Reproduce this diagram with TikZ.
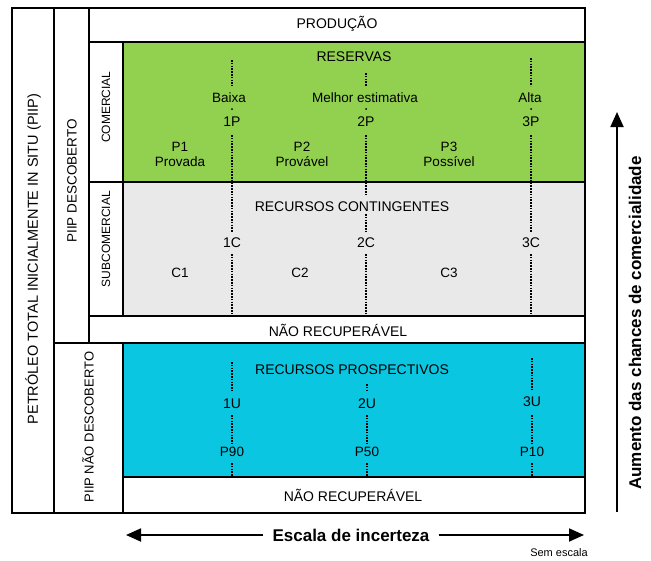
\documentclass[tikz,border=0pt]{standalone}
\usepackage{fontspec}
\setmainfont{Liberation Sans}
\usetikzlibrary{arrows.meta}
\definecolor{resgreen}{HTML}{92D050}
\definecolor{contgray}{HTML}{E9E9E9}
\definecolor{prosblue}{HTML}{0BC6E0}
\begin{document}
\begin{tikzpicture}[x=1pt,y=-1pt,
  region/.style={draw=black, line width=1.8pt, inner sep=0pt, outer sep=0pt, anchor=north west},
  lbl/.style={font=\fontsize{14}{16}\selectfont, inner sep=1pt},
  sml/.style={font=\fontsize{13.5}{16}\selectfont, inner sep=1pt, align=center},
  side/.style={font=\fontsize{12}{14}\selectfont, inner sep=1pt, rotate=90},
  bigbold/.style={font=\fontsize{17}{20}\selectfont\bfseries, inner sep=1pt},
  dotline/.style={line width=2pt, dash pattern=on 1.5pt off 1.3pt},
  dotmark/.style={fill=black},
  axis/.style={line width=1.8pt, -{Triangle[length=15pt,width=13pt]}}
]
\useasboundingbox (0,0) rectangle (651,560);
% regions
\node[region, minimum width=573pt, minimum height=505pt] (outer) at (12,8) {};
\node[region, minimum width=35pt, minimum height=335pt] (descol) at (54,8) {};
\node[region, minimum width=69pt, minimum height=170pt] (ndescol) at (54,343) {};
\node[region, minimum width=496pt, minimum height=34pt] (prod) at (89,8) {};
\node[region, minimum width=34pt, minimum height=140pt] (comcol) at (89,42) {};
\node[region, fill=resgreen, minimum width=462pt, minimum height=140pt] (green) at (123,42) {};
\node[region, minimum width=34pt, minimum height=134pt] (subcol) at (89,182) {};
\node[region, fill=contgray, minimum width=462pt, minimum height=134pt] (gray) at (123,182) {};
\node[region, minimum width=496pt, minimum height=27pt] (nrec1) at (89,316) {};
\node[region, fill=prosblue, minimum width=462pt, minimum height=134pt] (blue) at (123,343) {};
\node[region, minimum width=462pt, minimum height=36pt] (nrec2) at (123,477) {};

% side labels
\node[side, font=\fontsize{14.5}{16}\selectfont] (petro) at (33,259) {PETRÓLEO TOTAL INICIALMENTE IN SITU (PIIP)};
\node[side, font=\fontsize{13.5}{16}\selectfont] (piipd) at (72,181) {PIIP DESCOBERTO};
\node[side, font=\fontsize{13}{16}\selectfont] (piipnd) at (88,427) {PIIP NÃO DESCOBERTO};
\node[side] (comer) at (106,107) {COMERCIAL};
\node[side] (subcomer) at (106,239) {SUBCOMERCIAL};

% main labels
\node[lbl] (tprod) at (337,24) {PRODUÇÃO};
\node[lbl] (tres) at (354,57) {RESERVAS};
\node[lbl] (tcont) at (352,207) {RECURSOS CONTINGENTES};
\node[lbl] (tnr1) at (338,330) {NÃO RECUPERÁVEL};
\node[lbl] (tpros) at (352,370) {RECURSOS PROSPECTIVOS};
\node[lbl] (tnr2) at (353,495) {NÃO RECUPERÁVEL};

% estimates
\node[sml] (baixa) at (229,98) {Baixa};
\node[sml] (melhor) at (365,98) {Melhor estimativa};
\node[sml] (alta) at (530,98) {Alta};
\node[lbl] (n1P) at (232,122) {1P};
\node[lbl] (n2P) at (366,122) {2P};
\node[lbl] (n3P) at (531,122) {3P};
\node[sml] (p1) at (180,154) {P1\\[-1pt]Provada};
\node[sml] (p2) at (302,154) {P2\\[-1pt]Provável};
\node[sml] (p3) at (449,154) {P3\\[-1pt]Possível};
\node[lbl] (n1C) at (232,243) {1C};
\node[lbl] (n2C) at (366,243) {2C};
\node[lbl] (n3C) at (531,243) {3C};
\node[sml] (c1) at (180,273) {C1};
\node[sml] (c2) at (300,273) {C2};
\node[sml] (c3) at (449,273) {C3};
\node[lbl] (n1U) at (232,404) {1U};
\node[lbl] (n2U) at (367,404) {2U};
\node[lbl] (n3U) at (532,402) {3U};
\node[sml] (p90) at (232,452) {P90};
\node[sml] (p50) at (367,452) {P50};
\node[sml] (p10) at (532,452) {P10};

% dotted guide coordinates
\coordinate (a1) at (232,60);  \coordinate (a2) at (232,86);
\coordinate (a3) at (232,135); \coordinate (a4) at (232,232);
\coordinate (a5) at (232,254); \coordinate (a6) at (232,316);
\coordinate (b1) at (366,73);  \coordinate (b2) at (366,86);
\coordinate (b3) at (366,135); \coordinate (b4) at (366,194);
\coordinate (b5) at (366,214); \coordinate (b6) at (366,232);
\coordinate (b7) at (366,254); \coordinate (b8) at (366,316);
\coordinate (e1) at (531,58);  \coordinate (e2) at (531,86);
\coordinate (e3) at (531,135); \coordinate (e4) at (531,232);
\coordinate (e5) at (531,254); \coordinate (e6) at (531,316);
\coordinate (u1) at (232,362); \coordinate (u2) at (232,391);
\coordinate (u3) at (232,415); \coordinate (u4) at (232,444);
\coordinate (u5) at (232,463); \coordinate (u6) at (232,477);
\coordinate (v1) at (367,384); \coordinate (v2) at (367,391);
\coordinate (v3) at (367,415); \coordinate (v4) at (367,444);
\coordinate (v5) at (367,463); \coordinate (v6) at (367,477);
\coordinate (w1) at (532,358); \coordinate (w2) at (532,391);
\coordinate (w3) at (532,415); \coordinate (w4) at (532,444);
\coordinate (w5) at (532,463); \coordinate (w6) at (532,477);

\draw[dotline] (a1) -- (a2) (a3) -- (a4) (a5) -- (a6);
\draw[dotline] (b1) -- (b2) (b3) -- (b4) (b5) -- (b6) (b7) -- (b8);
\draw[dotline] (e1) -- (e2) (e3) -- (e4) (e5) -- (e6);
\draw[dotline] (u1) -- (u2) (u3) -- (u4) (u5) -- (u6);
\draw[dotline] (v1) -- (v2) (v3) -- (v4) (v5) -- (v6);
\draw[dotline] (w1) -- (w2) (w3) -- (w4) (w5) -- (w6);
\coordinate (m1) at (232,109); \coordinate (m2) at (366,109); \coordinate (m3) at (531,109);
\fill[dotmark] (m1) circle (1pt) (m2) circle (1pt) (m3) circle (1pt);

% axes
\node[bigbold, inner xsep=9pt] (escala) at (351,535) {Escala de incerteza};
\coordinate (hl) at (126,535);
\coordinate (hr) at (584,535);
\draw[axis] (escala.west) -- (hl);
\draw[axis] (escala.east) -- (hr);
\coordinate (vb) at (617,512);
\coordinate (vt) at (617,112);
\draw[axis] (vb) -- (vt);
\node[bigbold, rotate=90] (aumento) at (635,323) {Aumento das chances de comercialidade};
\node[font=\fontsize{11}{13}\selectfont, inner sep=1pt] (sem) at (559,553) {Sem escala};
\end{tikzpicture}
\end{document}
